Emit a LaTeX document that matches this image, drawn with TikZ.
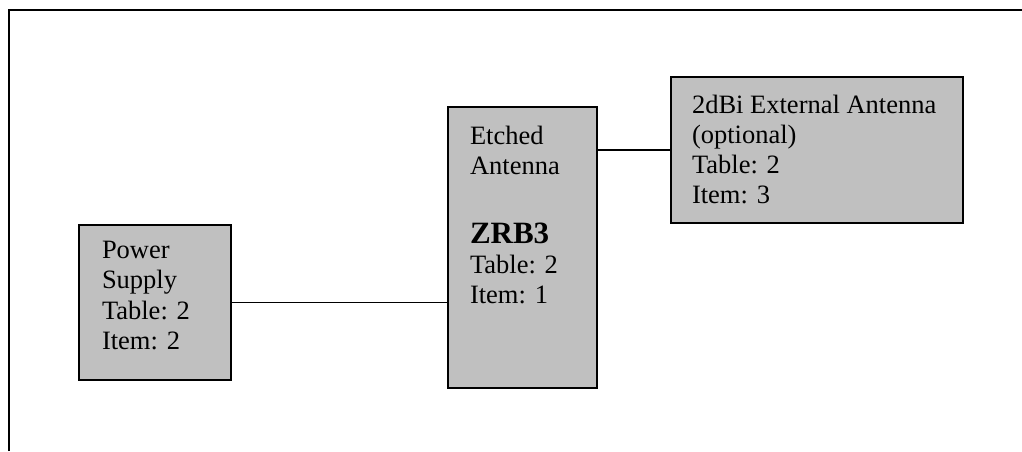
\documentclass[tikz,border=0pt]{standalone}
\usepackage{fontspec}
\setmainfont{Liberation Serif}
\definecolor{boxgray}{RGB}{192,192,192}
\begin{document}
\begin{tikzpicture}[x=1pt,y=1pt,
  blockbox/.style={draw=black, line width=1.5pt, fill=boxgray, rectangle, inner sep=0pt, outer sep=0pt},
  blocktext/.style={anchor=base west, inner sep=0pt, outer sep=0pt},
  link/.style={draw=black, line width=1.5pt}]
\useasboundingbox (0,0) rectangle (1022,451);
% frame
\coordinate (fa) at (9,0);
\coordinate (fb) at (9,441);
\coordinate (fc) at (1022,441);
\draw[line width=2pt] (fa) -- (fb) -- (fc);
% boxes
\node[blockbox, minimum width=152pt, minimum height=155pt] (ps) at (155,148.5) {};
\node[blockbox, minimum width=149pt, minimum height=281pt] (zrb) at (522.5,203.5) {};
\node[blockbox, minimum width=292pt, minimum height=146pt] (ext) at (817,301) {};
% texts
\node[blocktext] (pst) at (102,193) {\parbox[t]{120pt}{\raggedright\fontsize{26.5}{30.5}\selectfont Power\\Supply\\Table: 2\\Item: 2}};
\node[blocktext] (zrbt) at (470,307) {\parbox[t]{120pt}{\raggedright\fontsize{26.5}{30}\selectfont Etched\\Antenna\\[39pt]{\bfseries\fontsize{31}{30}\selectfont ZRB3}\\Table: 2\\Item: 1}};
\node[blocktext] (extt) at (692,338) {\parbox[t]{280pt}{\raggedright\fontsize{26.5}{30}\selectfont 2dBi External Antenna\\(optional)\\Table: 2\\Item: 3}};
% connectors
\draw[link] (ps.east) -- (ps.east -| zrb.west);
\draw[link] (ext.west) -- (ext.west -| zrb.east);
\end{tikzpicture}
\end{document}
